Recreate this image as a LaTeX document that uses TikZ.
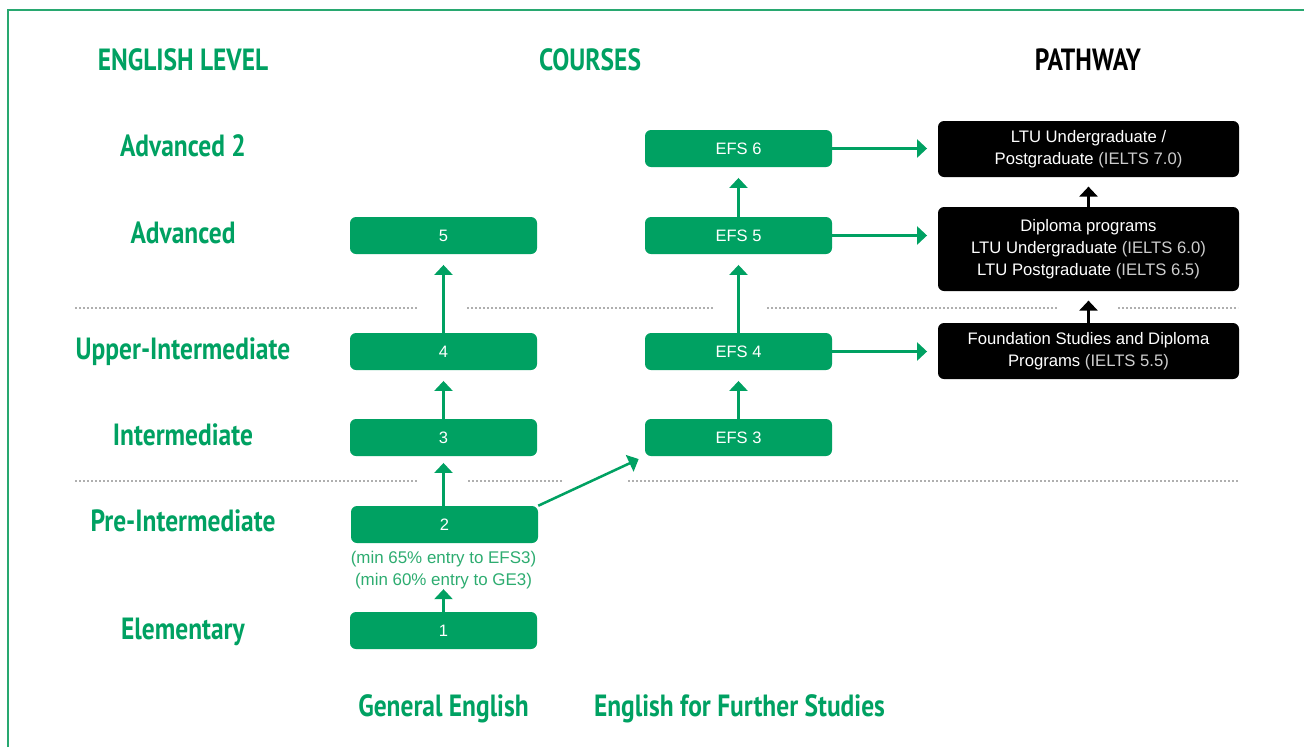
\documentclass[tikz,border=0pt]{standalone}
\usepackage{fontspec}
\setmainfont{Liberation Sans}
\newfontfamily\hand[FakeStretch=0.83]{PT Sans}
\usetikzlibrary{arrows.meta}
\definecolor{gr}{RGB}{0,161,98}
\definecolor{grtxt}{RGB}{45,172,112}
\definecolor{dotc}{RGB}{175,175,175}
\definecolor{framec}{RGB}{40,168,112}
\definecolor{lgray}{RGB}{205,205,205}
\tikzset{
  gbox/.style={fill=gr, rounded corners=4.5pt, minimum width=140.25pt, minimum height=27.75pt, inner sep=0pt, text=white, font=\fontsize{12.4}{14}\selectfont},
  pbox/.style={fill=black, rounded corners=4.5pt, minimum width=225.75pt, inner sep=0pt, text=white, align=center, font=\fontsize{12.5}{16.5}\selectfont},
  hd/.style={anchor=base, text=gr, font=\hand\bfseries\fontsize{23}{26}\selectfont, inner sep=0pt},
  garr/.style={draw=gr, line width=1.9pt, -{Triangle[width=13.5pt,length=7.5pt]}, shorten >=8pt},
  karr/.style={draw=black, line width=1.9pt, -{Triangle[width=13.5pt,length=7.5pt]}, shorten >=7pt},
  dotl/.style={draw=dotc, line width=1.3pt, dash pattern=on 1.3pt off 1.7pt}
}
\begin{document}
\begin{tikzpicture}[x=0.75pt, y=-0.75pt]
\useasboundingbox (0,0) rectangle (1304,747);
\draw[framec, line width=1.6pt] (8,747) -- (8,10) -- (1304,10);

% headings
\node[hd] (hlevel) at (183,70) {ENGLISH LEVEL};
\node[hd] (hcourse) at (590,70) {COURSES};
\node[hd, text=black] (hpath) at (1088,70) {PATHWAY};

% level labels
\node[hd] (l6) at (183,156) {Advanced 2};
\node[hd] (l5) at (183,243) {Advanced};
\node[hd] (l4) at (183,359) {Upper-Intermediate};
\node[hd] (l3) at (183,445) {Intermediate};
\node[hd] (l2) at (183,531) {Pre-Intermediate};
\node[hd] (l1) at (183,639) {Elementary};

% column labels
\node[hd] (cge) at (443.5,716) {General English};
\node[hd] (cefs) at (739.5,716) {English for Further Studies};

% dotted separators
\draw[dotl] (75,308) -- (418,308);
\draw[dotl] (467,308) -- (714,308);
\draw[dotl] (767,308) -- (1058,308);
\draw[dotl] (1118,308) -- (1238,308);
\draw[dotl] (75,481) -- (418,481);
\draw[dotl] (468,481) -- (562,481);
\draw[dotl] (628,481) -- (1238,481);

% General English boxes
\node[gbox] (g5) at (443.5,235.5) {5};
\node[gbox] (g4) at (443.5,351.5) {4};
\node[gbox] (g3) at (443.5,437.5) {3};
\node[gbox] (g2) at (444.5,524.5) {2};
\node[gbox] (g1) at (443.5,630.5) {1};
\node[text=grtxt, align=center, inner sep=0pt, font=\fontsize{12.7}{16.5}\selectfont] (note) at (443.5,570) {(min 65\% entry to EFS3)\\(min 60\% entry to GE3)};

% EFS boxes
\node[gbox] (e6) at (738.5,148.5) {EFS 6};
\node[gbox] (e5) at (738.5,235.5) {EFS 5};
\node[gbox] (e4) at (738.5,351.5) {EFS 4};
\node[gbox] (e3) at (738.5,437.5) {EFS 3};

% pathway boxes
\node[pbox, minimum height=42pt] (p7) at (1088.5,149) {LTU Undergraduate /\\Postgraduate \textcolor{lgray}{(IELTS 7.0)}};
\node[pbox, minimum height=63pt] (p6) at (1088.5,249) {Diploma programs\\LTU Undergraduate \textcolor{lgray}{(IELTS 6.0)}\\LTU Postgraduate \textcolor{lgray}{(IELTS 6.5)}};
\node[pbox, minimum height=42pt] (p5) at (1088.5,351) {Foundation Studies and Diploma\\Programs \textcolor{lgray}{(IELTS 5.5)}};

% arrows GE
\draw[garr, shorten >=0pt] (g1.north) -- (note.south);
\draw[garr, shorten >=5pt] (g2.north -| g3.north) -- (g3.south);
\draw[garr] (g3.north) -- (g4.south);
\draw[garr] (g4.north) -- (g5.south);
\draw[garr, shorten >=5pt] (g2.north east) -- (e3.south west);

% arrows EFS
\draw[garr] (e4.north) -- (e5.south);
\draw[garr] (e5.north) -- (e6.south);
\draw[garr] (e3.north) -- (e4.south);
\draw[garr] (e6.east) -- (e6.east -| p7.west);
\draw[garr] (e5.east) -- (e5.east -| p6.west);
\draw[garr] (e4.east) -- (e4.east -| p5.west);

% pathway arrows
\draw[karr] (p5.north) -- (p6.south);
\draw[karr] (p6.north) -- (p7.south);
\end{tikzpicture}
\end{document}
